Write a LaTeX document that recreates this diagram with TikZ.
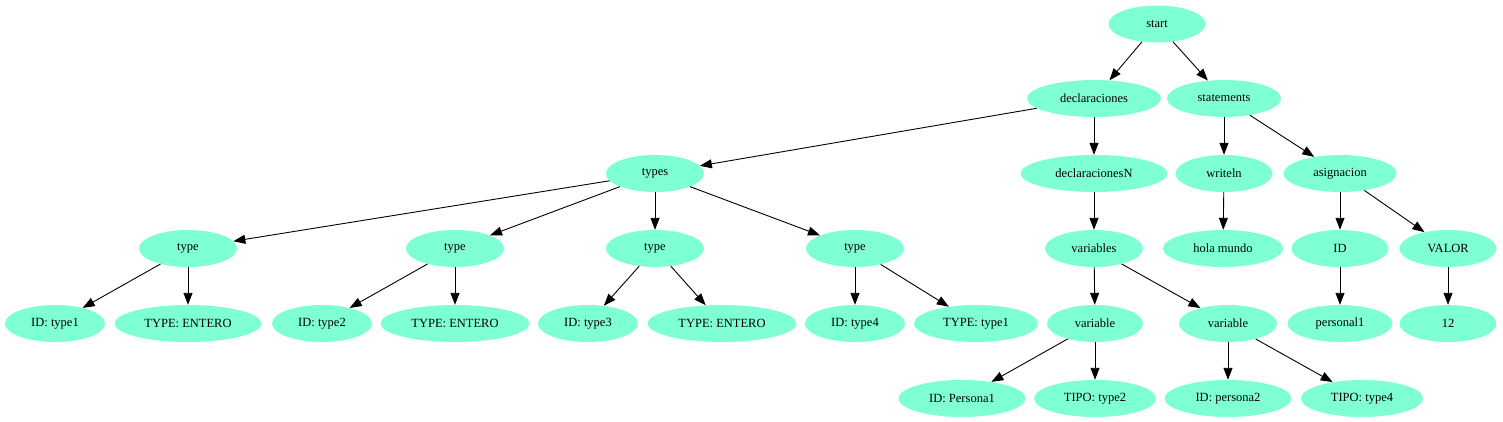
\documentclass[tikz,border=0pt]{standalone}
\usepackage{fontspec}
\setmainfont{Liberation Serif}
\usetikzlibrary{shapes.geometric,arrows.meta}
\definecolor{aqua}{HTML}{7FFFD4}
\begin{document}
\begin{tikzpicture}[x=1pt,y=-1pt,
  nd/.style={ellipse,fill=aqua,draw=none,inner sep=0pt,minimum height=37pt,minimum width=#1,font=\rmfamily\fontsize{12.5}{14}\selectfont},
  nd/.default=97pt,
  edge/.style={-{Triangle[length=12pt,width=9pt]},line width=0.9pt}]
\useasboundingbox (0,0) rectangle (1503,422);
% row 1
\node[nd=97pt] (start) at (1157,24) {start};
% row 2
\node[nd=134pt] (decl) at (1094,98.5) {declaraciones};
\node[nd=114pt] (stmts) at (1224,98.5) {statements};
% row 3
\node[nd=98pt] (types) at (655,173.5) {types};
\node[nd=147pt] (declN) at (1094,173.5) {declaracionesN};
\node[nd=97pt] (writeln) at (1224,173.5) {writeln};
\node[nd=113pt] (asig) at (1340,173.5) {asignacion};
% row 4
\node[nd=98pt] (t1) at (188,248.5) {type};
\node[nd=98pt] (t2) at (455,248.5) {type};
\node[nd=98pt] (t3) at (655,248.5) {type};
\node[nd=98pt] (t4) at (855,248.5) {type};
\node[nd=98pt] (vars) at (1094,248.5) {variables};
\node[nd=120pt] (hola) at (1223,248.5) {hola mundo};
\node[nd=97pt] (id) at (1340,248.5) {ID};
\node[nd=97pt] (valor) at (1448,248.5) {VALOR};
% row 5
\node[nd=100pt] (id1) at (55,323.5) {ID: type1};
\node[nd=147pt] (ty1) at (188,323.5) {TYPE: ENTERO};
\node[nd=100pt] (id2) at (322,323.5) {ID: type2};
\node[nd=149pt] (ty2) at (455,323.5) {TYPE: ENTERO};
\node[nd=100pt] (id3) at (588,323.5) {ID: type3};
\node[nd=149pt] (ty3) at (722,323.5) {TYPE: ENTERO};
\node[nd=100pt] (id4) at (855,323.5) {ID: type4};
\node[nd=124pt] (ty4) at (976,323.5) {TYPE: type1};
\node[nd=96pt] (var1) at (1095,323.5) {variable};
\node[nd=98pt] (var2) at (1228,323.5) {variable};
\node[nd=105pt] (pers) at (1340,323.5) {personal1};
\node[nd=97pt] (doce) at (1448,323.5) {12};
% row 6
\node[nd=127pt] (p1) at (962,398.5) {ID: Persona1};
\node[nd=122pt] (tp2) at (1095,398.5) {TIPO: type2};
\node[nd=127pt] (p2) at (1228,398.5) {ID: persona2};
\node[nd=122pt] (tp4) at (1362,398.5) {TIPO: type4};
% edges
\draw[edge] (start) -- (decl);
\draw[edge] (start) -- (stmts);
\draw[edge] (decl) -- (types);
\draw[edge] (decl) -- (declN);
\draw[edge] (stmts) -- (writeln);
\draw[edge] (stmts) -- (asig);
\draw[edge] (types) -- (t1);
\draw[edge] (types) -- (t2);
\draw[edge] (types) -- (t3);
\draw[edge] (types) -- (t4);
\draw[edge] (declN) -- (vars);
\draw[edge] (writeln) -- (hola);
\draw[edge] (asig) -- (id);
\draw[edge] (asig) -- (valor);
\draw[edge] (t1) -- (id1);
\draw[edge] (t1) -- (ty1);
\draw[edge] (t2) -- (id2);
\draw[edge] (t2) -- (ty2);
\draw[edge] (t3) -- (id3);
\draw[edge] (t3) -- (ty3);
\draw[edge] (t4) -- (id4);
\draw[edge] (t4) -- (ty4);
\draw[edge] (vars) -- (var1);
\draw[edge] (vars) -- (var2);
\draw[edge] (id) -- (pers);
\draw[edge] (valor) -- (doce);
\draw[edge] (var1) -- (p1);
\draw[edge] (var1) -- (tp2);
\draw[edge] (var2) -- (p2);
\draw[edge] (var2) -- (tp4);
\end{tikzpicture}
\end{document}
